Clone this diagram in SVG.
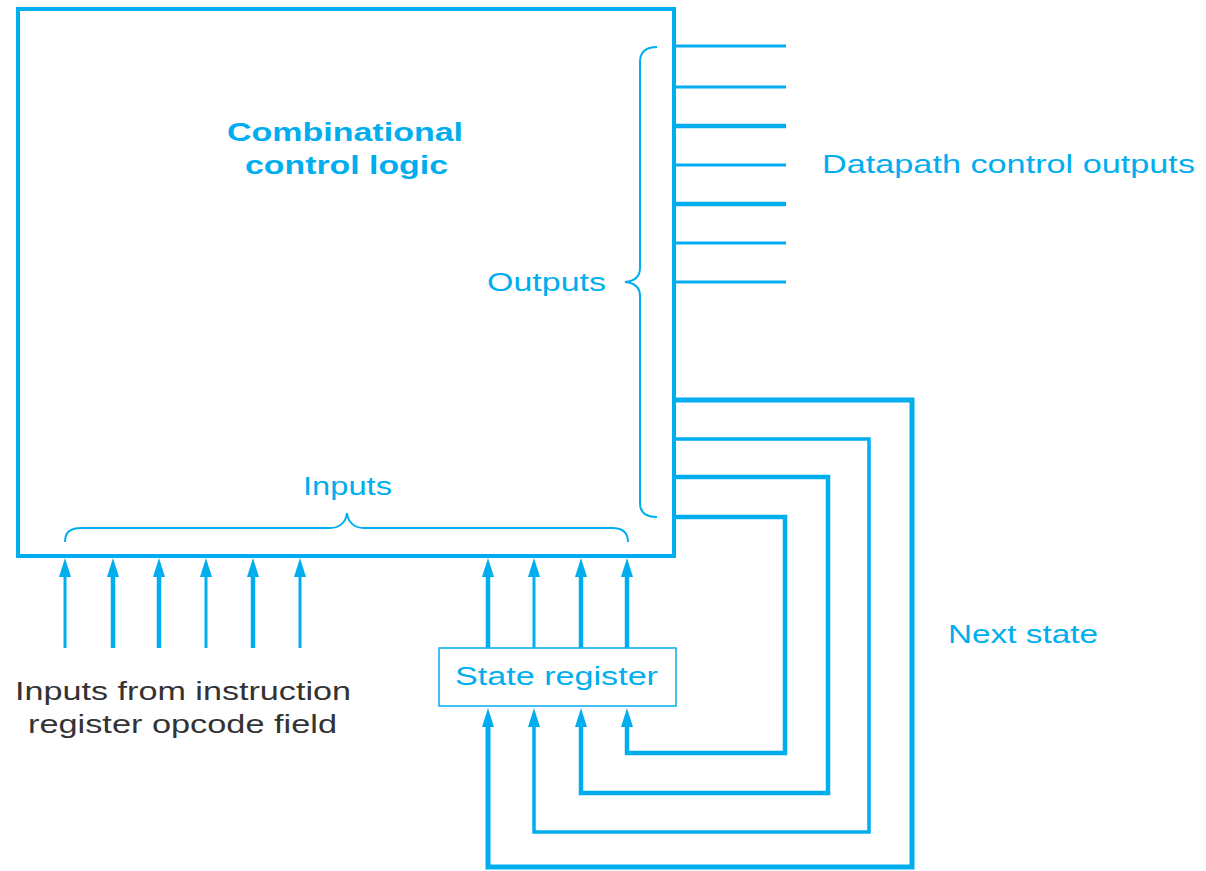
<svg xmlns="http://www.w3.org/2000/svg" width="1206" height="871" viewBox="0 0 1206 871">
<style>
.b{stroke:#00AEEF;fill:none}
.t{font-family:"Liberation Sans",Arial,sans-serif;font-size:26px;fill:#00AEEF}
.k{font-family:"Liberation Sans",Arial,sans-serif;font-size:26px;fill:#333333}
.bold{font-weight:bold}
</style>
<defs>
<marker id="ah" markerUnits="userSpaceOnUse" markerWidth="20" markerHeight="14" refX="0" refY="6" orient="auto" overflow="visible">
<path d="M0,0 L19,6 L0,12 Z" fill="#00AEEF"/>
</marker>
</defs>
<rect width="1206" height="871" fill="#ffffff"/>
<g id="control-logic">
<rect class="b" x="18" y="9" width="656" height="547" stroke-width="4"/>
<text class="t bold" x="227" y="141" textLength="236" lengthAdjust="spacingAndGlyphs">Combinational</text>
<text class="t bold" x="245" y="174" textLength="203" lengthAdjust="spacingAndGlyphs">control logic</text>
<path class="b" stroke-width="2" d="M657,47 C645,47 640,52 640,62 L640,268 C640,276 636,281 625,282 C636,283 640,288 640,296 L640,503 C640,512 645,517 657,517"/>
<text class="t" x="487" y="291" textLength="119" lengthAdjust="spacingAndGlyphs">Outputs</text>
<path class="b" stroke-width="2" d="M65,542 C65,532 70,528 82,528 L330,528 C340,528 346,522 347,513 C348,522 354,528 364,528 L612,528 C622,528 628,532 628,542"/>
<text class="t" x="303" y="495" textLength="89" lengthAdjust="spacingAndGlyphs">Inputs</text>
</g>
<g id="state-register">
<rect class="b" x="439" y="648" width="237" height="58" stroke-width="1.5"/>
<text class="t" x="455" y="685" textLength="203" lengthAdjust="spacingAndGlyphs">State register</text>
</g>
<g id="labels">
<text class="t" x="822" y="173" textLength="373" lengthAdjust="spacingAndGlyphs">Datapath control outputs</text>
<text class="t" x="948" y="643" textLength="150" lengthAdjust="spacingAndGlyphs">Next state</text>
<text class="k" x="15" y="700" textLength="336" lengthAdjust="spacingAndGlyphs">Inputs from instruction</text>
<text class="k" x="28" y="733" textLength="309" lengthAdjust="spacingAndGlyphs">register opcode field</text>
</g>
<g id="connectors">
<g id="datapath-outputs">
<line class="b" x1="674" y1="46" x2="786" y2="46" stroke-width="3"/>
<line class="b" x1="674" y1="87" x2="786" y2="87" stroke-width="3"/>
<line class="b" x1="674" y1="126" x2="786" y2="126" stroke-width="4.5"/>
<line class="b" x1="674" y1="165" x2="786" y2="165" stroke-width="3"/>
<line class="b" x1="674" y1="204" x2="786" y2="204" stroke-width="4.5"/>
<line class="b" x1="674" y1="243" x2="786" y2="243" stroke-width="3"/>
<line class="b" x1="674" y1="282" x2="786" y2="282" stroke-width="3"/>
</g>
<g id="opcode-inputs" marker-end="url(#ah)">
<line class="b" x1="65" y1="648" x2="65" y2="577" stroke-width="3" marker-end="url(#ah)"/>
<line class="b" x1="113" y1="648" x2="113" y2="577" stroke-width="4.5" marker-end="url(#ah)"/>
<line class="b" x1="159" y1="648" x2="159" y2="577" stroke-width="4.5" marker-end="url(#ah)"/>
<line class="b" x1="206" y1="648" x2="206" y2="577" stroke-width="3" marker-end="url(#ah)"/>
<line class="b" x1="253" y1="648" x2="253" y2="577" stroke-width="4.5" marker-end="url(#ah)"/>
<line class="b" x1="300" y1="648" x2="300" y2="577" stroke-width="3" marker-end="url(#ah)"/>
</g>
<g id="state-outputs">
<line class="b" x1="488" y1="648" x2="488" y2="577" stroke-width="4.5" marker-end="url(#ah)"/>
<line class="b" x1="534" y1="648" x2="534" y2="577" stroke-width="3" marker-end="url(#ah)"/>
<line class="b" x1="581" y1="648" x2="581" y2="577" stroke-width="4.5" marker-end="url(#ah)"/>
<line class="b" x1="627" y1="648" x2="627" y2="577" stroke-width="4.5" marker-end="url(#ah)"/>
</g>
<g id="next-state">
<polyline class="b" points="674,400 912,400 912,867 488,867 488,727" stroke-width="5" marker-end="url(#ah)"/>
<polyline class="b" points="674,439 869,439 869,832 534,832 534,727" stroke-width="3.5" marker-end="url(#ah)"/>
<polyline class="b" points="674,477 828,477 828,793 581,793 581,727" stroke-width="4.5" marker-end="url(#ah)"/>
<polyline class="b" points="674,517 785,517 785,753 627,753 627,727" stroke-width="4.5" marker-end="url(#ah)"/>
</g>
</g>
</svg>
